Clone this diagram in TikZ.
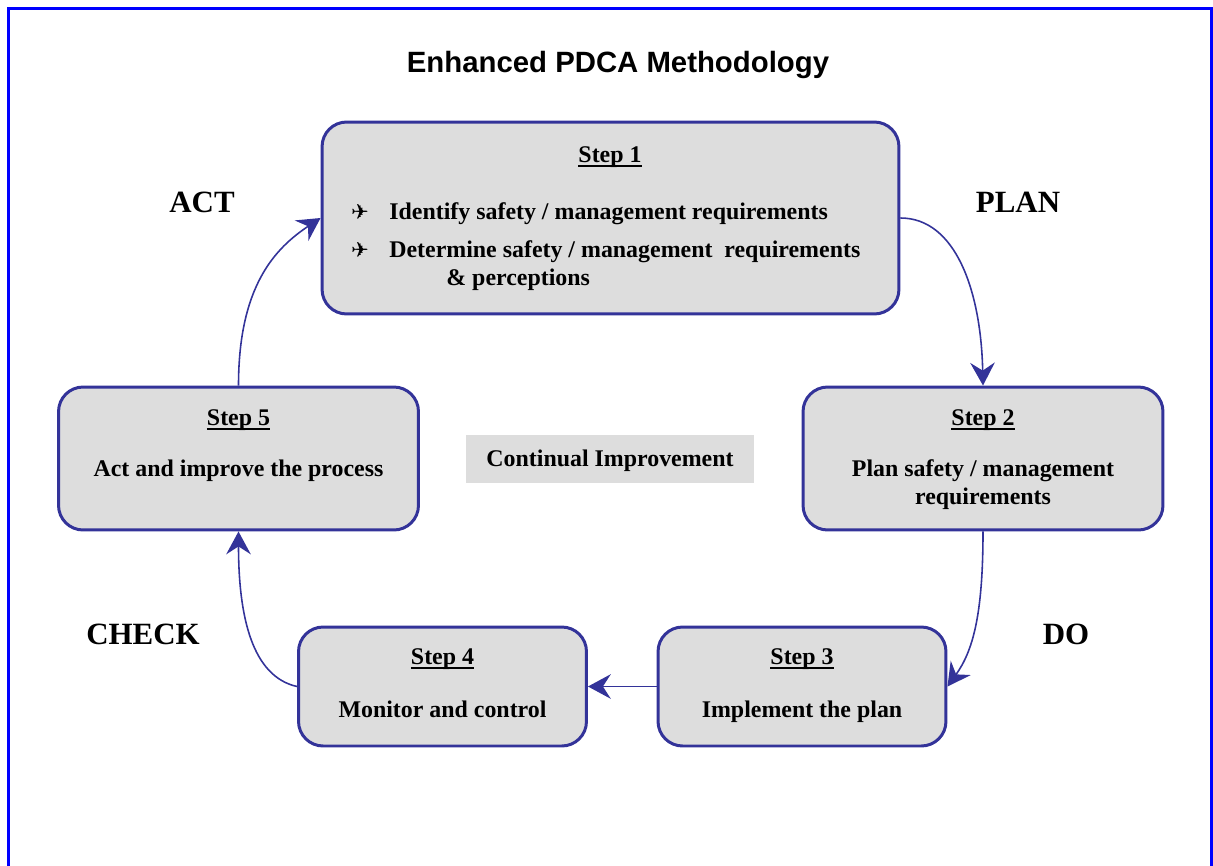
\documentclass[tikz,border=0pt]{standalone}
\usepackage{fontspec}
\setmainfont{Liberation Serif}
\setsansfont{Liberation Sans}
\newfontfamily\planefont{DejaVu Sans}
\usetikzlibrary{arrows.meta}
\definecolor{stepblue}{RGB}{51,51,153}
\definecolor{stepgray}{RGB}{221,221,221}
\definecolor{frameblue}{RGB}{0,0,255}
% thick underline for the step headings
\newcommand\stepul[1]{\setbox0\hbox{#1}\rlap{\rule[-2.8pt]{\wd0}{1.1pt}}\box0}

\begin{document}
\begin{tikzpicture}[x=0.02cm, y=-0.02cm,
    stepbox/.style={draw=stepblue, line width=1.7pt, fill=stepgray, rounded corners=14pt, inner sep=0pt},
    txt/.style={font=\fontsize{13.6}{16}\selectfont\bfseries, anchor=base, inner sep=0pt},
    phase/.style={font=\fontsize{17.6}{21}\selectfont\bfseries, anchor=base, inner sep=0pt},
    flow/.style={draw=stepblue, line width=0.9pt, -{Stealth[length=13pt, width=14pt, inset=4.5pt]}}
]

                \useasboundingbox (0,0) rectangle (1213,865);

                % Outer frame
                \draw[frameblue, line width=2pt] (8.5,8.5) rectangle (1212,920);

                % Title
                \node[font=\fontsize{16.7}{20}\selectfont\sffamily\bfseries, anchor=base] (title) at (618,72) {Enhanced PDCA Methodology};

                % Draw step boxes
                \node[stepbox, minimum width=11.54cm, minimum height=3.84cm] (s1) at (610.5,218) {};
                \node[stepbox, minimum width=7.2cm, minimum height=2.86cm] (s2) at (983,458.5) {};
                \node[stepbox, minimum width=5.76cm, minimum height=2.38cm] (s3) at (802,686.5) {};
                \node[stepbox, minimum width=5.76cm, minimum height=2.38cm] (s4) at (442.5,686.5) {};
                \node[stepbox, minimum width=7.2cm, minimum height=2.86cm] (s5) at (238.5,458.5) {};

                % Centre label
                \node[fill=stepgray, minimum width=5.76cm, minimum height=0.96cm, inner sep=0pt] (ci) at (610,459) {};
                \node[txt] (citxt) at (610,466) {Continual Improvement};

                % Step 1 text
                \node[txt] (t1) at (610,162) {\stepul{Step 1}};
                \node[txt, font=\fontsize{12}{14}\selectfont\planefont] (b1) at (360,219) {✈};
                \node[txt, anchor=base west] (l1) at (389,219) {Identify safety / management requirements};
                \node[txt, font=\fontsize{12}{14}\selectfont\planefont] (b2) at (360,257) {✈};
                \node[txt, anchor=base west] (l2) at (389,257) {Determine safety / management\ \ requirements};
                \node[txt, anchor=base west] (l3) at (446,285) {\& perceptions};

                % Steps 2 to 5 text
                \node[txt] (t2) at (983,425) {\stepul{Step 2}};
                \node[txt] (l4) at (983,476) {Plan safety / management};
                \node[txt] (l5) at (983,504) {requirements};
                \node[txt] (t3) at (802,664) {\stepul{Step 3}};
                \node[txt] (l6) at (802,717) {Implement the plan};
                \node[txt] (t4) at (442.5,664) {\stepul{Step 4}};
                \node[txt] (l7) at (442.5,717) {Monitor and control};
                \node[txt] (t5) at (238.5,425) {\stepul{Step 5}};
                \node[txt] (l8) at (238.5,476) {Act and improve the process};

                % Phase labels
                \node[phase] (act) at (202,212) {ACT};
                \node[phase] (plan) at (1018,212) {PLAN};
                \node[phase] (do) at (1066,644) {DO};
                \node[phase] (check) at (143,644) {CHECK};

                % Connectors
                \draw[flow] (s1.east) .. controls +(55,0) and +(-2,-95) .. (s2.north);
                \draw[flow] (s2.south) .. controls +(0,85) and +(25,-35) .. (s3.east);
                \draw[flow] (s3.west) -- (s4.east);
                \draw[flow] (s4.west) .. controls +(-45,-10) and +(0,85) .. (s5.south);
                \draw[flow] (s5.north) .. controls +(0,-100) and +(-45,30) .. (s1.west);

\end{tikzpicture}
\end{document}
